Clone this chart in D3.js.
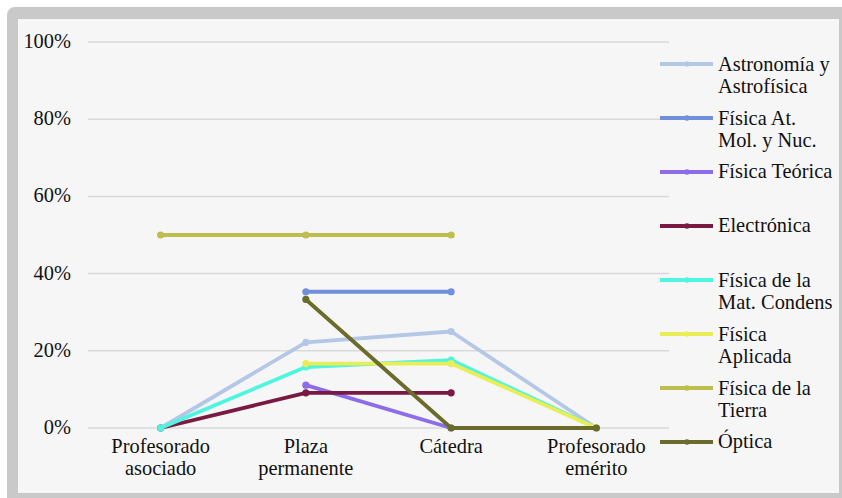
<!DOCTYPE html>
<html>
<head>
<meta charset="utf-8">
<script src="https://cdn.jsdelivr.net/npm/d3@7"></script>
<style>
  html, body { margin: 0; padding: 0; background: #ffffff; }
  svg { display: block; }
</style>
</head>
<body>
<svg id="chart" width="842" height="498"></svg>
<script>
// Categories along the x axis (each label split onto two lines)
const categories = ["Profesorado asociado", "Plaza permanente", "Cátedra", "Profesorado emérito"];
const categoryLines = [["Profesorado", "asociado"], ["Plaza", "permanente"], ["Cátedra"], ["Profesorado", "emérito"]];

// Y axis ticks (share of staff)
const yTicks = [0, 0.2, 0.4, 0.6, 0.8, 1.0];

// Series names and their legend labels
const seriesNames = ["Astronomía y Astrofísica", "Física At. Mol. y Nuc.", "Física Teórica", "Electrónica",
  "Física de la Mat. Condens", "Física Aplicada", "Física de la Tierra", "Óptica"];
const legendLines = [["Astronomía y", "Astrofísica"], ["Física At.", "Mol. y Nuc."], ["Física Teórica"], ["Electrónica"],
  ["Física de la", "Mat. Condens"], ["Física", "Aplicada"], ["Física de la", "Tierra"], ["Óptica"]];
const seriesColors = ["#b4c7e7", "#7090dc", "#8c6ce8", "#7a1a42", "#4ef5df", "#e9ee57", "#bdbe4c", "#6b6b2b"];

// Values per category (null = no data)
const astronomia   = [0, 0.222, 0.25, 0];
const atomica      = [null, 0.353, 0.353, null];
const teorica      = [null, 0.111, 0, null];
const electronica  = [0, 0.091, 0.091, null];
const condensada   = [0, 0.158, 0.176, 0];
const aplicada     = [null, 0.167, 0.167, 0];
const tierra       = [0.5, 0.5, 0.5, null];
const optica       = [null, 0.333, 0, 0];

const seriesValues = [astronomia, atomica, teorica, electronica, condensada, aplicada, tierra, optica];

const FONT = "Liberation Serif";
const FS = 20.4;
const svg = d3.select("#chart");

// Frame
svg.append("rect").attr("x", 7).attr("y", 7).attr("width", 860).attr("height", 510)
  .attr("rx", 8).attr("fill", "#c9c9c9");
svg.append("rect").attr("x", 18).attr("y", 19).attr("width", 821).attr("height", 474)
  .attr("fill", "#f6f6f6");

const plot = { left: 88, right: 669, top: 42, bottom: 428 };

const x = d3.scaleBand().domain(categories).range([plot.left, plot.right]).padding(0);
const y = d3.scaleLinear().domain([0, 1]).range([plot.bottom, plot.top]);
const cx = c => x(c) + x.bandwidth() / 2;

// Gridlines
svg.append("g").selectAll("line").data(yTicks).join("line")
  .attr("x1", plot.left).attr("x2", plot.right)
  .attr("y1", d => y(d)).attr("y2", d => y(d))
  .attr("stroke", "#d9d9d9").attr("stroke-width", 1.5);

// Y axis labels
const pct = d3.format(".0%");
svg.append("g").selectAll("text").data(yTicks).join("text")
  .attr("x", 71).attr("y", d => y(d) + 6)
  .attr("text-anchor", "end").attr("font-size", FS).attr("font-family", FONT).attr("fill", "#111")
  .text(d => pct(d));

// X axis labels
const xl = svg.append("g").selectAll("text").data(categories).join("text")
  .attr("text-anchor", "middle").attr("font-size", FS).attr("font-family", FONT).attr("fill", "#111")
  .attr("x", d => cx(d)).attr("y", 453);
xl.each(function(d, i) {
  const t = d3.select(this);
  categoryLines[i].forEach((ln, j) => {
    t.append("tspan").attr("x", cx(d)).attr("dy", j === 0 ? 0 : 22).text(ln);
  });
});

// Series lines and markers
const line = d3.line()
  .defined(d => d.v !== null)
  .x(d => cx(d.c))
  .y(d => y(d.v));

seriesValues.forEach((vals, i) => {
  const pts = categories.map((c, k) => ({ c, v: vals[k] }));
  const g = svg.append("g");
  g.append("path").datum(pts)
    .attr("d", line)
    .attr("fill", "none")
    .attr("stroke", seriesColors[i])
    .attr("stroke-width", 3.8)
    .attr("stroke-linejoin", "round");
  g.selectAll("circle").data(pts.filter(p => p.v !== null)).join("circle")
    .attr("cx", p => cx(p.c)).attr("cy", p => y(p.v))
    .attr("r", 3.6).attr("fill", seriesColors[i]);
});

// Legend
const legendY = d3.scaleLinear().domain([0, seriesNames.length - 1]).range([64, 442]);
const lg = svg.append("g").selectAll("g").data(seriesNames).join("g")
  .attr("transform", (d, i) => `translate(0,${legendY(i)})`);
lg.append("line").attr("x1", 660).attr("x2", 713).attr("y1", 0).attr("y2", 0)
  .attr("stroke", (d, i) => seriesColors[i]).attr("stroke-width", 3.8);
lg.append("circle").attr("cx", 687).attr("cy", 0).attr("r", 2.8)
  .attr("fill", (d, i) => seriesColors[i]);
lg.append("text").attr("x", 718).attr("font-size", FS).attr("font-family", FONT).attr("fill", "#111")
  .attr("y", (d, i) => legendLines[i].length > 1 ? 7 : 6)
  .each(function(d, i) {
    const t = d3.select(this);
    legendLines[i].forEach((ln, j) => {
      t.append("tspan").attr("x", 718).attr("dy", j === 0 ? 0 : 22).text(ln);
    });
  });
</script>
</body>
</html>
